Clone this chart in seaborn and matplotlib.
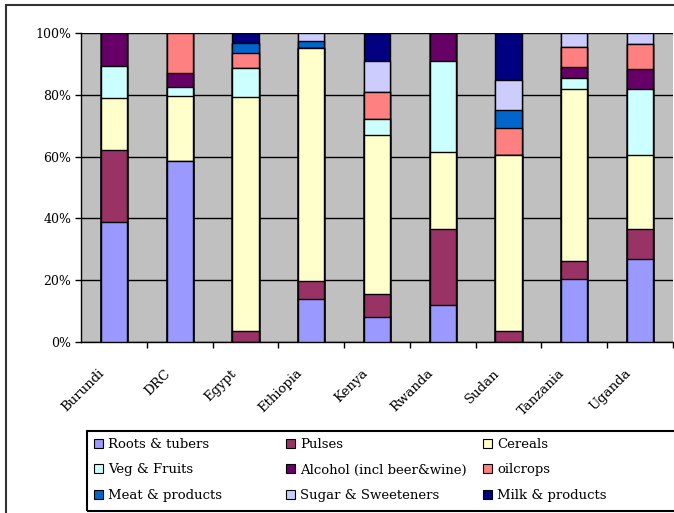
import pandas as pd
import seaborn as sns
import matplotlib.pyplot as plt
import matplotlib.transforms as mtransforms
from matplotlib.patches import Rectangle, Patch
from matplotlib.ticker import FuncFormatter

countries = ["Burundi", "DRC", "Egypt", "Ethiopia", "Kenya", "Rwanda", "Sudan", "Tanzania", "Uganda"]
groups = ["Roots & tubers", "Pulses", "Cereals", "Veg & Fruits", "Alcohol (incl beer&wine)",
          "oilcrops", "Meat & products", "Sugar & Sweeteners", "Milk & products"]
colors = ["#9999FF", "#993366", "#FFFFCC", "#CCFFFF", "#660066",
          "#FF8080", "#0066CC", "#CCCCFF", "#000080"]

roots   = [38.9, 58.7, 0.0, 13.8, 7.9, 12.0, 0.0, 20.3, 26.8]
pulses  = [23.3, 0.0, 3.4, 6.0, 7.6, 24.5, 3.4, 6.0, 9.7]
cereals = [16.8, 20.9, 75.8, 75.3, 51.5, 25.1, 57.1, 55.6, 24.0]
veg     = [10.5, 2.9, 9.7, 0.0, 5.2, 29.5, 0.0, 3.6, 21.4]
alcohol = [10.5, 4.6, 0.0, 0.0, 0.0, 8.9, 0.0, 3.5, 6.5]
oil     = [0.0, 12.9, 4.6, 0.0, 8.7, 0.0, 8.8, 6.5, 8.1]
meat    = [0.0, 0.0, 3.3, 2.4, 0.0, 0.0, 5.8, 0.0, 0.0]
sugar   = [0.0, 0.0, 0.0, 2.5, 10.2, 0.0, 9.8, 4.5, 3.5]
milk    = [0.0, 0.0, 3.2, 0.0, 8.9, 0.0, 15.1, 0.0, 0.0]

df = pd.DataFrame({"Roots & tubers": roots, "Pulses": pulses, "Cereals": cereals,
                   "Veg & Fruits": veg, "Alcohol (incl beer&wine)": alcohol, "oilcrops": oil,
                   "Meat & products": meat, "Sugar & Sweeteners": sugar, "Milk & products": milk},
                  index=countries)
df = df.div(df.sum(axis=1), axis=0) * 100
cum = df.cumsum(axis=1)

sns.set_style("white")
plt.rcParams["font.family"] = ["DejaVu Serif"]
plt.rcParams["text.color"] = "black"
plt.rcParams["xtick.color"] = "black"
plt.rcParams["ytick.color"] = "black"

fig = plt.figure(figsize=(6.74, 5.13), dpi=100)
ax = fig.add_axes([81 / 674, 1 - 341.7 / 513, 592 / 674, 308.4 / 513])
ax.set_facecolor("#C0C0C0")

# draw cumulative bars from the top layer down so each layer shows through
for g, c in zip(groups[::-1], colors[::-1]):
    d = pd.DataFrame({"country": countries, "value": cum[g].values})
    sns.barplot(data=d, x="country", y="value", color=c, edgecolor="black",
                linewidth=1.0, width=0.4, saturation=1, ax=ax, zorder=3)

ax.set_ylim(0, 100)
ax.set_xlim(-0.5, len(countries) - 0.5)
ax.set_yticks([0, 20, 40, 60, 80, 100])
ax.yaxis.set_major_formatter(FuncFormatter(lambda v, p: f"{v:.0f}%"))
ax.grid(axis="y", color="black", linewidth=1.0, zorder=1)
ax.set_axisbelow(True)
for s in ["top", "right"]:
    ax.spines[s].set_visible(False)
for s in ["left", "bottom"]:
    ax.spines[s].set_color("black")
    ax.spines[s].set_linewidth(1.0)
ax.set_xlabel("")
ax.set_ylabel("")
ax.tick_params(axis="y", left=True, length=4, width=1, labelsize=9, pad=3)
ax.set_xticks(range(len(countries)))
ax.set_xticklabels(countries, rotation=45, ha="right", va="top", rotation_mode="anchor", fontsize=9.5)
ax.tick_params(axis="x", bottom=True, length=0, pad=18)
ax.set_xticks([i + 0.5 for i in range(len(countries))], minor=True)
ax.tick_params(axis="x", which="minor", bottom=True, length=4, width=1)
shift = mtransforms.ScaledTranslation(-16 / 100, 0, fig.dpi_scale_trans)
for lab in ax.get_xticklabels():
    lab.set_transform(lab.get_transform() + shift)

# legend: framed box spanning to the right edge, three columns placed by hand
fig.patches.append(Rectangle((87 / 674, 1 - 511 / 513), 700 / 674, 80 / 513, transform=fig.transFigure,
                             fill=False, edgecolor="black", linewidth=1.5))
handles = [Patch(facecolor=c, edgecolor="black", linewidth=0.8) for c in colors]
col_x = [90, 282, 479]
for k in range(3):
    idx = [k, k + 3, k + 6]
    leg = fig.legend([handles[i] for i in idx], [groups[i] for i in idx],
                     loc="upper left", bbox_to_anchor=(col_x[k] / 674, 1 - 434 / 513),
                     ncol=1, fontsize=9.5, frameon=False,
                     handlelength=0.7, handleheight=0.7, handletextpad=0.4,
                     borderaxespad=0, labelspacing=0.95, borderpad=0.3)

fig.patches.append(Rectangle((6 / 674, -0.1), 1.2, 1 - 5 / 513 + 0.1, transform=fig.transFigure,
                             fill=False, edgecolor="#333333", linewidth=1.5))

fig.savefig("out.png", dpi=100)
